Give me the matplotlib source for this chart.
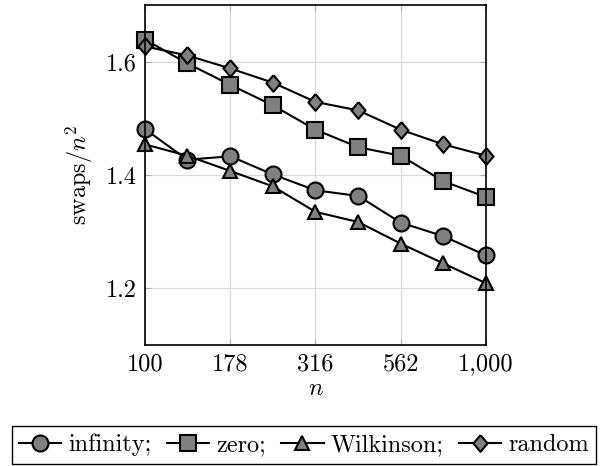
import matplotlib
matplotlib.use("Agg")
import matplotlib.pyplot as plt
from matplotlib.ticker import FixedLocator, FixedFormatter, NullLocator

plt.rcParams['font.family'] = 'serif'
plt.rcParams['font.serif'] = ['cmr10']
plt.rcParams['mathtext.fontset'] = 'cm'
plt.rcParams['axes.formatter.use_mathtext'] = True

# Data
n = [100, 133, 178, 237, 316, 422, 562, 750, 1000]
infinity = [1.481, 1.427, 1.433, 1.401, 1.373, 1.363, 1.316, 1.292, 1.258]
zero = [1.639, 1.597, 1.559, 1.523, 1.480, 1.449, 1.434, 1.389, 1.361]
wilkinson = [1.454, 1.434, 1.407, 1.380, 1.335, 1.317, 1.279, 1.244, 1.209]
random_ = [1.627, 1.611, 1.588, 1.563, 1.529, 1.514, 1.480, 1.454, 1.434]

xticks = [100, 178, 316, 562, 1000]
xtick_labels = ['100', '178', '316', '562', '1,000']
yticks = [1.2, 1.4, 1.6]
ytick_labels = ['1.2', '1.4', '1.6']

# pgfplots-like diamond (a bit wider than matplotlib's thin one)
diamond = [(0, 1), (0.85, 0), (0, -1), (-0.85, 0), (0, 1)]

series = [
    ('infinity;', infinity, 'o', 11.5),
    ('zero;', zero, 's', 11.0),
    ('Wilkinson;', wilkinson, '^', 10.0),
    ('random', random_, diamond, 12.0),
]

FS = 17.5

fig = plt.figure(figsize=(6.08, 4.66), dpi=100)
ax = fig.add_axes([145 / 608, 1 - 345 / 466, 341 / 608, 340 / 466])

for label, vals, m, ms in series:
    ax.plot(n, vals, color='black', lw=1.5, marker=m, markersize=ms,
            markerfacecolor='#808080', markeredgecolor='black',
            markeredgewidth=1.5, label=label, clip_on=False)

ax.set_xscale('log')
ax.set_xlim(100, 1000)
ax.set_ylim(1.1, 1.7)
ax.xaxis.set_major_locator(FixedLocator(xticks))
ax.xaxis.set_major_formatter(FixedFormatter(xtick_labels))
ax.xaxis.set_minor_locator(NullLocator())
ax.yaxis.set_major_locator(FixedLocator(yticks))
ax.yaxis.set_major_formatter(FixedFormatter(ytick_labels))
ax.tick_params(axis='both', labelsize=FS, length=4, direction='in',
               color='#b0b0b0', top=True, right=True, pad=6)
ax.grid(True, color='#d8d8d8', lw=0.8)
for s in ax.spines.values():
    s.set_linewidth(1.2)

ax.set_xlabel('$n$', fontsize=FS, labelpad=2)
ax.set_ylabel(r'$\mathrm{swaps}/n^2$', fontsize=FS, labelpad=8)

fig.legend(loc='lower center', bbox_to_anchor=(0.5, 0.0), ncol=4,
           fontsize=FS, frameon=True, fancybox=False, edgecolor='black',
           framealpha=1, handlelength=1.75, handletextpad=0.3,
           columnspacing=0.6, borderpad=0.3, borderaxespad=0.1)

fig.savefig('out.png', dpi=100)
